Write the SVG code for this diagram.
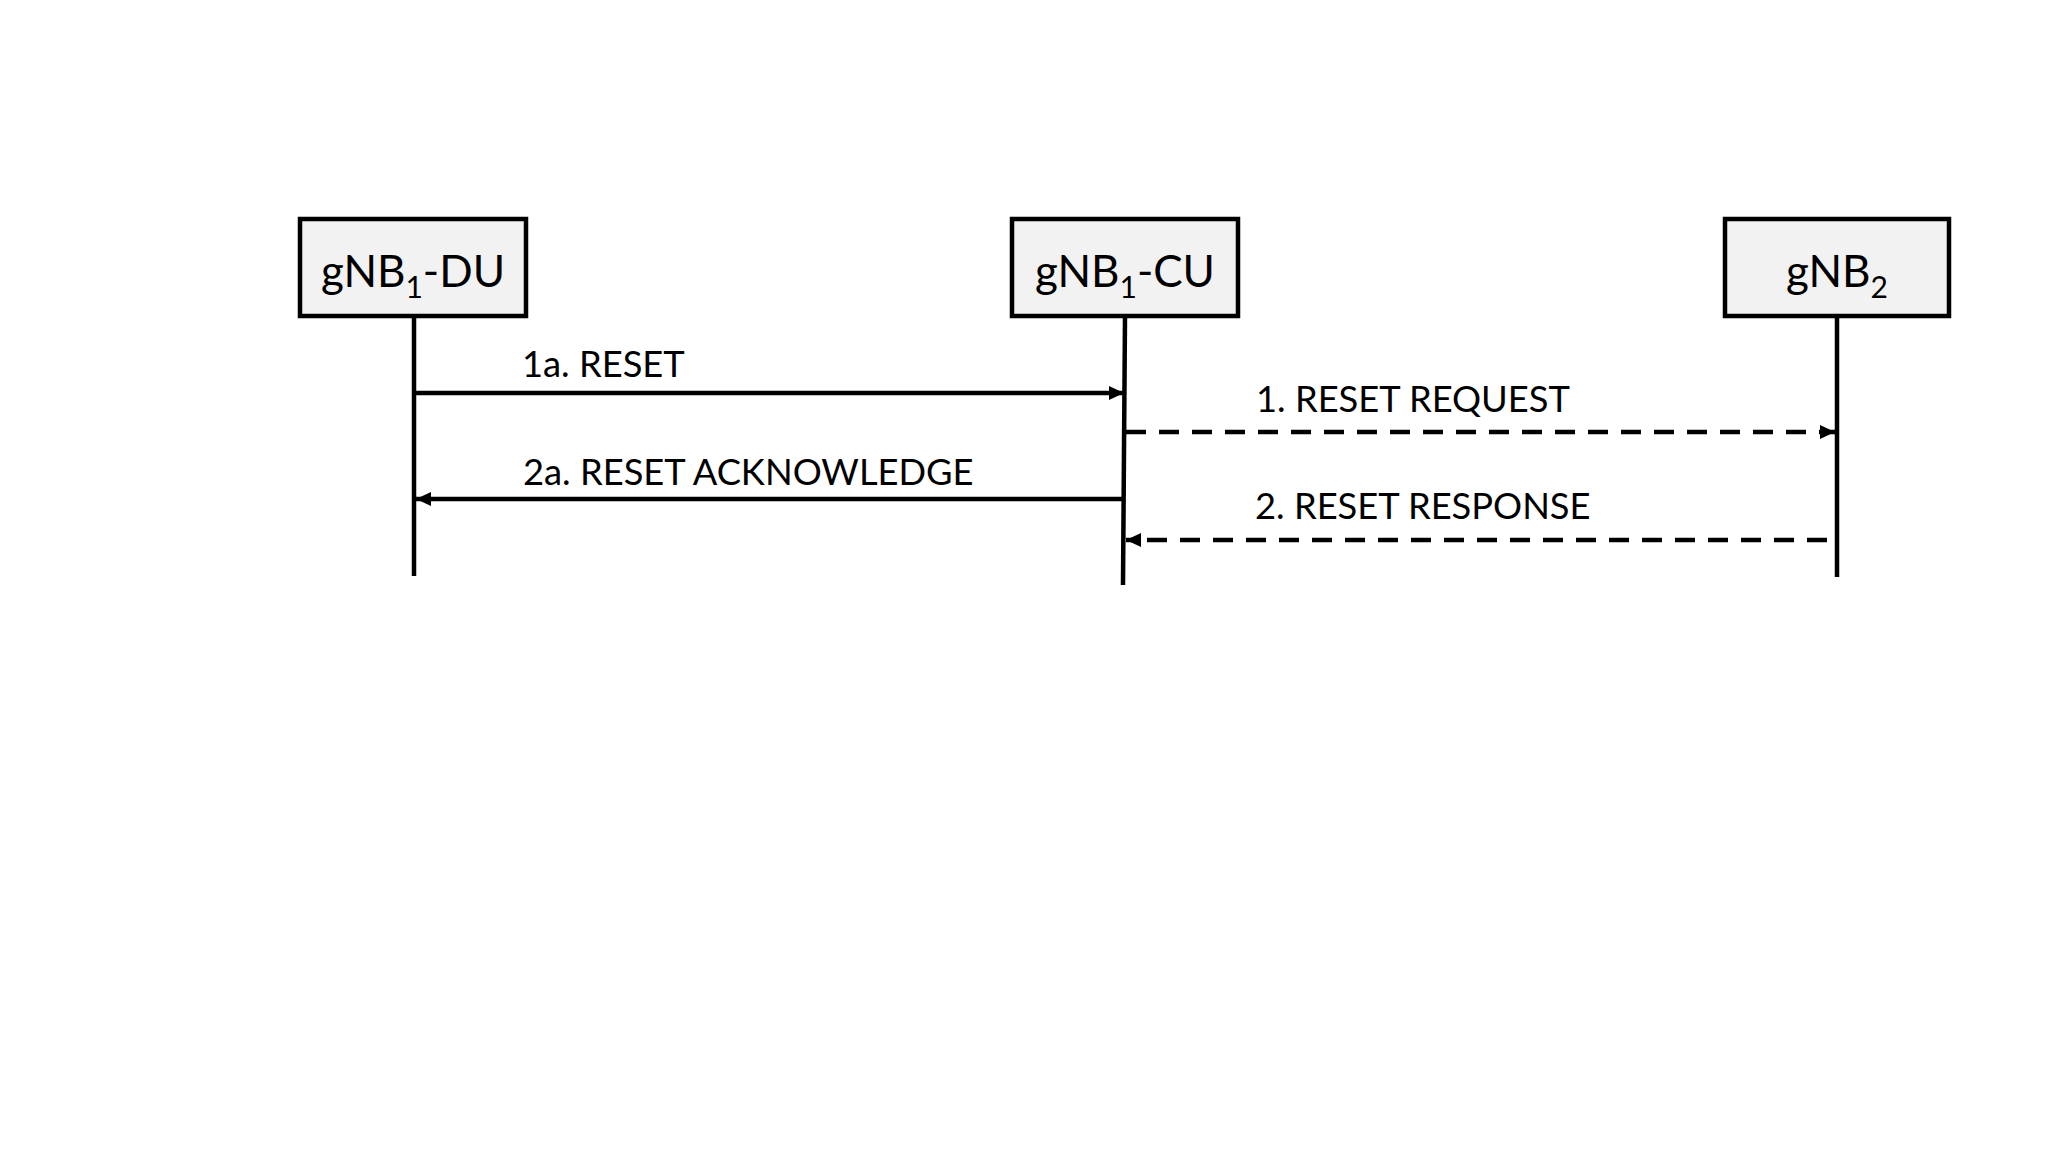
<svg xmlns="http://www.w3.org/2000/svg" width="2048" height="1153" viewBox="0 0 2048 1153">
<defs>
<style>
.box{fill:#f2f2f2;stroke:#000;stroke-width:4.5}
.life{stroke:#000;stroke-width:4.5;fill:none}
.msg{stroke:#000;stroke-width:4.6;fill:none}
.dash{stroke-dasharray:20 13}
.ntext{font-family:Lato,"Liberation Sans",sans-serif;font-size:44px;fill:#000;text-anchor:middle}
.lbl{font-family:Lato,"Liberation Sans",sans-serif;font-size:36.3px;fill:#000}
</style>
<marker id="ah" markerUnits="userSpaceOnUse" markerWidth="16" markerHeight="14" refX="15" refY="7" orient="auto">
<path d="M0,0 L15,7 L0,14 Z" fill="#000"/>
</marker>
</defs>
<rect width="2048" height="1153" fill="#fff"/>
<g id="node-du">
<rect class="box" x="300" y="219" width="226" height="97"/>
<line class="life" x1="414" y1="316" x2="414" y2="576"/>
<text class="ntext" x="413" y="287">gNB<tspan font-size="30" dy="11">1</tspan><tspan dy="-11">-DU</tspan></text>
</g>
<g id="node-cu">
<rect class="box" x="1012" y="219" width="226" height="97"/>
<line class="life" x1="1125" y1="316" x2="1123" y2="585"/>
<text class="ntext" x="1125" y="287">gNB<tspan font-size="30" dy="11">1</tspan><tspan dy="-11">-CU</tspan></text>
</g>
<g id="node-gnb2">
<rect class="box" x="1725" y="219" width="224" height="97"/>
<line class="life" x1="1837" y1="316" x2="1837" y2="577"/>
<text class="ntext" x="1837" y="287">gNB<tspan font-size="30" dy="11">2</tspan></text>
</g>
<g id="connectors">
<line class="msg" x1="414" y1="393" x2="1124" y2="393" marker-end="url(#ah)"/>
<line class="msg dash" x1="1126" y1="432" x2="1835" y2="432" marker-end="url(#ah)"/>
<line class="msg" x1="1124" y1="499" x2="416" y2="499" marker-end="url(#ah)"/>
<line class="msg dash" x1="1827" y1="540" x2="1126" y2="540" marker-end="url(#ah)"/>
<text class="lbl" x="522" y="377">1a. RESET</text>
<text class="lbl" x="1256" y="412">1. RESET REQUEST</text>
<text class="lbl" x="523" y="485">2a. RESET ACKNOWLEDGE</text>
<text class="lbl" x="1255" y="519">2. RESET RESPONSE</text>
</g>
</svg>
